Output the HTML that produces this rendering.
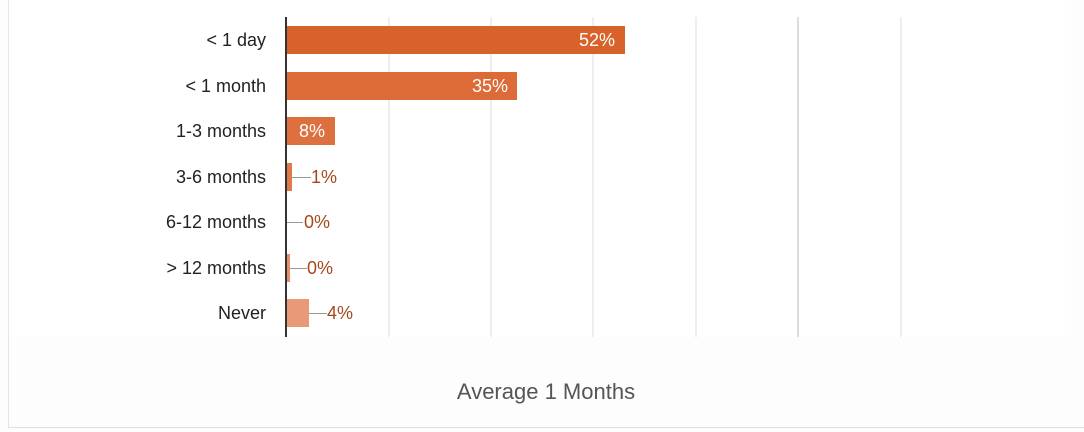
<!DOCTYPE html>
<html><head><style>
body{margin:0;width:1084px;height:432px;background:#fdfdfd;font-family:"Liberation Sans",sans-serif;position:relative;overflow:hidden}
.a{position:absolute}
.lab{position:absolute;right:818px;font-size:18px;color:#222;text-align:right;white-space:nowrap}
.bar{position:absolute;left:287px;height:28px}
.in{position:absolute;color:#fff;font-size:18px}
.out{position:absolute;color:#a5481c;font-size:18px}
.ld{position:absolute;height:1px;background:#999}
.g{position:absolute;top:17px;height:320px;width:2px;background:#eee}
</style></head><body>
<div class="a" style="left:8px;top:0;width:1px;height:428px;background:#e6e6e6"></div>
<div class="a" style="left:8px;top:427px;width:1076px;height:1px;background:#e0e0e0"></div>
<div class="a" style="left:9px;top:0;width:1062px;height:337px;background:#fff"></div>
<div class="g" style="left:388px"></div>
<div class="g" style="left:490px"></div>
<div class="g" style="left:592px"></div>
<div class="g" style="left:695px"></div>
<div class="g" style="left:797px;background:#ddd"></div>
<div class="g" style="left:900px"></div>
<div class="a" style="left:285px;top:17px;width:2px;height:320px;background:#333"></div>

<div class="lab" style="top:30px">&lt; 1 day</div>
<div class="lab" style="top:76px">&lt; 1 month</div>
<div class="lab" style="top:121px">1-3 months</div>
<div class="lab" style="top:167px">3-6 months</div>
<div class="lab" style="top:212px">6-12 months</div>
<div class="lab" style="top:258px">&gt; 12 months</div>
<div class="lab" style="top:303px">Never</div>

<div class="bar" style="top:26px;width:338px;background:#d9622b"></div>
<div class="in" style="left:579px;top:30px">52%</div>
<div class="bar" style="top:72px;width:230px;background:#dc6b37"></div>
<div class="in" style="left:472px;top:76px">35%</div>
<div class="bar" style="top:117px;width:48px;background:#de7040"></div>
<div class="in" style="left:299px;top:121px">8%</div>
<div class="bar" style="top:163px;width:5px;background:#e07a4a"></div>
<div class="ld" style="left:292px;top:177px;width:19px"></div>
<div class="out" style="left:311px;top:167px">1%</div>
<div class="ld" style="left:287px;top:222px;width:16px"></div>
<div class="out" style="left:304px;top:212px">0%</div>
<div class="bar" style="top:254px;width:3px;background:#e6906a"></div>
<div class="ld" style="left:290px;top:268px;width:17px"></div>
<div class="out" style="left:307px;top:258px">0%</div>
<div class="bar" style="top:299px;width:22px;background:#e89a78"></div>
<div class="ld" style="left:309px;top:313px;width:18px"></div>
<div class="out" style="left:327px;top:303px">4%</div>

<div class="a" style="left:0;width:1092px;top:379px;text-align:center;font-size:22px;color:#555">Average 1 Months</div>
</body></html>
